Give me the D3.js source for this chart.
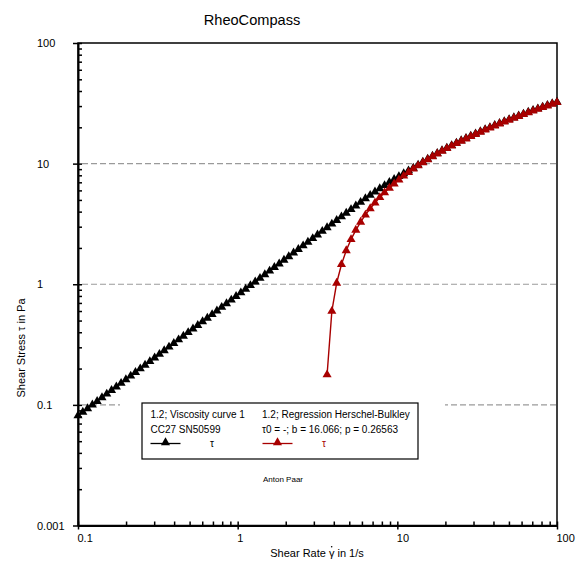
<!DOCTYPE html>
<html>
<head>
<meta charset="utf-8">
<script src="https://cdn.jsdelivr.net/npm/d3@7"></script>
<style>
  html, body { margin: 0; padding: 0; background: #fff; }
  svg { display: block; font-family: "Liberation Sans", Arial, sans-serif; }
</style>
</head>
<body>
<svg id="chart" width="576" height="564"></svg>
<script>
// Shear rate points of the measurement (1/s)
const shearRate = [
  0.1000, 0.1072, 0.1148, 0.1230, 0.1318, 0.1413, 0.1514, 0.1622, 0.1738, 0.1862,
  0.1995, 0.2138, 0.2291, 0.2455, 0.2630, 0.2818, 0.3020, 0.3236, 0.3467, 0.3715,
  0.3981, 0.4266, 0.4571, 0.4898, 0.5248, 0.5623, 0.6026, 0.6457, 0.6918, 0.7413,
  0.7943, 0.8511, 0.9120, 0.9772,
  1.047, 1.122, 1.202, 1.288, 1.380, 1.479, 1.585, 1.698, 1.820, 1.950,
  2.089, 2.239, 2.399, 2.570, 2.754, 2.951, 3.162, 3.388, 3.631, 3.890,
  4.169, 4.467, 4.786, 5.129, 5.495, 5.888, 6.310, 6.761, 7.244, 7.762,
  8.318, 8.913, 9.550,
  10.23, 10.96, 11.75, 12.59, 13.49, 14.45, 15.49, 16.60, 17.78, 19.05,
  20.42, 21.88, 23.44, 25.12, 26.92, 28.84, 30.90, 33.11, 35.48, 38.02,
  40.74, 43.65, 46.77, 50.12, 53.70, 57.54, 61.66, 66.07, 70.79, 75.86,
  81.28, 87.10, 93.33, 100.0
];

// Measured shear stress, viscosity curve 1 (Pa)
const viscosityTau = [
  0.0813, 0.0871, 0.0933, 0.1000, 0.1071, 0.1149, 0.1231, 0.1319, 0.1413, 0.1514,
  0.1622, 0.1738, 0.1862, 0.1996, 0.2138, 0.2291, 0.2455, 0.2631, 0.2819, 0.3020,
  0.3237, 0.3468, 0.3716, 0.3982, 0.4267, 0.4571, 0.4899, 0.5250, 0.5624, 0.6027,
  0.6458, 0.6919, 0.7415, 0.7945,
  0.851, 0.912, 0.977, 1.047, 1.122, 1.202, 1.288, 1.380, 1.479, 1.585,
  1.698, 1.820, 1.950, 2.089, 2.239, 2.399, 2.570, 2.754, 2.951, 3.162,
  3.388, 3.631, 3.890, 4.169, 4.467, 4.786, 5.129, 5.470, 5.834, 6.209,
  6.592, 6.998, 7.413,
  7.834, 8.279, 8.730, 9.183, 9.75, 10.33, 10.92, 11.55, 12.18, 12.82,
  13.48, 14.15, 14.83, 15.53, 16.24, 16.96, 17.69, 18.44, 19.20, 19.97,
  20.76, 21.57, 22.39, 23.22, 24.07, 24.94, 25.82, 26.72, 27.63, 28.56,
  29.51, 30.48, 31.46, 32.47
];

// Herschel-Bulkley regression shear stress (Pa), last points of the shear rate list
const fitTau = [
  0.178, 0.598, 1.024, 1.459, 1.902, 2.353, 2.812, 3.280, 3.756, 4.241,
  4.736, 5.239, 5.752, 6.274, 6.806, 7.348, 7.900, 8.462, 9.034, 9.617,
  10.211, 10.816, 11.432, 12.059, 12.698, 13.349, 14.012, 14.687, 15.375, 16.075,
  16.789, 17.516, 18.256, 19.009, 19.777, 20.559, 21.355, 22.167, 22.993, 23.834,
  24.692, 25.564, 26.453, 27.359, 28.282, 29.221, 30.178, 31.152, 32.145
];

const xTickValues = [0.1, 1, 10, 100];
const xTickLabels = ["0.1", "1", "10", "100"];
const yTickValues = [0.01, 0.1, 1, 10, 100];
const yTickLabels = ["0.001", "0.1", "1", "10", "100"];
const gridValues = [0.1, 1, 10];

const legendLeft = ["1.2; Viscosity curve 1", "CC27 SN50599"];
const legendRight = ["1.2; Regression Herschel-Bulkley", "\u03c40 = -; b = 16.066; p = 0.26563"];

const RED = "#a80000";

const svg = d3.select("#chart");
const L = 78, R = 557, T = 43, B = 525.5;

const x = d3.scaleLog().domain([0.1, 100]).range([L, R]);
const y = d3.scaleLog().domain([0.01, 100]).range([B, T]);

// Title
svg.append("text").attr("x", 252).attr("y", 25).attr("text-anchor", "middle")
  .attr("font-size", 14.6).attr("fill", "#000").text("RheoCompass");

// Frame
svg.append("rect").attr("x", L).attr("y", T).attr("width", R - L).attr("height", B - T)
  .attr("fill", "none").attr("stroke", "#000").attr("stroke-width", 1.5);

// Dashed horizontal grid
svg.append("g").selectAll("line").data(gridValues).join("line")
  .attr("x1", L + 4).attr("x2", R)
  .attr("y1", d => y(d)).attr("y2", d => y(d))
  .attr("stroke", "#9a9a9a").attr("stroke-width", 1.2).attr("stroke-dasharray", "6,3");

// Y axis: major ticks outward with labels, minor ticks inward
const yMajor = svg.append("g").attr("transform", `translate(${L},0)`)
  .call(d3.axisLeft(y).tickValues(yTickValues).tickSizeInner(5).tickSizeOuter(0)
    .tickFormat((d, i) => yTickLabels[i]));
yMajor.select(".domain").attr("stroke-width", 2);
yMajor.selectAll("text").attr("text-anchor", "start").attr("x", -41)
  .attr("font-size", 11).attr("font-family", "Liberation Sans, Arial, sans-serif");
yMajor.selectAll(".tick line").attr("stroke-width", 1.5);

const yMinor = svg.append("g").attr("transform", `translate(${L},0)`)
  .call(d3.axisRight(y).tickValues(y.ticks()).tickSizeInner(4).tickSizeOuter(0).tickFormat(""));
yMinor.select(".domain").remove();
yMinor.selectAll(".tick line").attr("stroke-width", 1.5);

// X axis: major ticks outward with labels, minor ticks inward
const xMajor = svg.append("g").attr("transform", `translate(0,${B})`)
  .call(d3.axisBottom(x).tickValues(xTickValues).tickSizeInner(4).tickSizeOuter(0)
    .tickFormat((d, i) => xTickLabels[i]));
xMajor.select(".domain").attr("stroke-width", 2);
xMajor.selectAll("text").attr("text-anchor", "start").attr("x", -1).attr("y", 16).attr("dy", 0)
  .attr("font-size", 11).attr("font-family", "Liberation Sans, Arial, sans-serif");
xMajor.selectAll(".tick line").attr("stroke-width", 1.5);

const xMinor = svg.append("g").attr("transform", `translate(0,${B})`)
  .call(d3.axisTop(x).tickValues(x.ticks()).tickSizeInner(4).tickSizeOuter(0).tickFormat(""));
xMinor.select(".domain").remove();
xMinor.selectAll(".tick line").attr("stroke-width", 1.5);

// Axis titles; the dot over the gamma is placed from the measured glyph position
const xTitle = svg.append("text").attr("x", 317).attr("y", 557).attr("text-anchor", "middle")
  .attr("font-size", 11);
xTitle.append("tspan").text("Shear Rate ");
const gammaSpan = xTitle.append("tspan").text("\u03b3");
xTitle.append("tspan").text("  in 1/s");
{
  const n = xTitle.node();
  const start = n.getStartPositionOfChar(11).x;
  const end = n.getEndPositionOfChar(11).x;
  svg.append("circle").attr("cx", (start + end) / 2).attr("cy", 557 - 10.2).attr("r", 0.8).attr("fill", "#000");
}
svg.append("text").attr("transform", "translate(25,348) rotate(-90)").attr("text-anchor", "middle")
  .attr("font-size", 11).text("Shear Stress \u03c4 in Pa");

// Data series
const measured = shearRate.map((g, i) => ({ g, t: viscosityTau[i] }));
const fitStart = shearRate.length - fitTau.length;
const fitted = fitTau.map((t, i) => ({ g: shearRate[fitStart + i], t }));

const line = d3.line().x(d => x(d.g)).y(d => y(d.t));
const tri = d3.symbol(d3.symbolTriangle, 36);

function drawSeries(data, color) {
  const g = svg.append("g");
  g.append("path").datum(data).attr("d", line)
    .attr("fill", "none").attr("stroke", color).attr("stroke-width", 1.4);
  g.selectAll("path.m").data(data).join("path").attr("class", "m")
    .attr("d", tri).attr("transform", d => `translate(${x(d.g)},${y(d.t)})`)
    .attr("fill", color);
}
drawSeries(measured, "#000");
drawSeries(fitted, RED);

// Legend
const lg = svg.append("g");
lg.append("rect").attr("x", 120).attr("y", 398).attr("width", 325).attr("height", 66).attr("fill", "#fff");
lg.append("rect").attr("x", 142).attr("y", 403).attr("width", 276).attr("height", 56)
  .attr("fill", "#fff").attr("stroke", "#000").attr("stroke-width", 1.2);
legendLeft.forEach((s, i) => lg.append("text").attr("x", 150.5).attr("y", 418 + i * 15)
  .attr("font-size", 10).text(s));
legendRight.forEach((s, i) => lg.append("text").attr("x", 262).attr("y", 418 + i * 15)
  .attr("font-size", 10).text(s));
[[150.5, "#000", 210], [262.5, RED, 322]].forEach(([lx, c, tx]) => {
  lg.append("line").attr("x1", lx).attr("x2", lx + 30).attr("y1", 443.5).attr("y2", 443.5)
    .attr("stroke", c).attr("stroke-width", 1.3);
  lg.append("path").attr("d", tri).attr("transform", `translate(${lx + 15},442.5)`).attr("fill", c);
  lg.append("text").attr("x", tx).attr("y", 447).attr("font-size", 10).attr("fill", c).text("\u03c4");
});

// Footer mark
svg.append("text").attr("x", 283).attr("y", 482).attr("text-anchor", "middle")
  .attr("font-size", 8).text("Anton Paar");
</script>
</body>
</html>
